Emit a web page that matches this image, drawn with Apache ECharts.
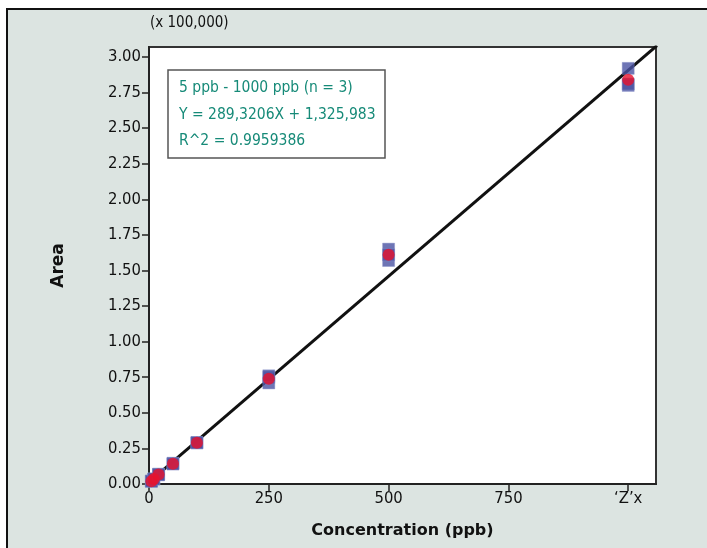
<!DOCTYPE html>
<html><head><meta charset="utf-8">
<script src="https://cdn.jsdelivr.net/npm/echarts@6/dist/echarts.min.js"></script>
<style>html,body{margin:0;padding:0;background:#fff}#c{width:707px;height:548px}</style>
</head><body><div id="c"></div>
<script>
const concentrations = [5, 10, 20, 50, 100, 250, 500, 1000];
const replicate1 = [0.02, 0.035, 0.07, 0.145, 0.29, 0.75, 1.65, 2.92];
const replicate2 = [0.02, 0.035, 0.065, 0.145, 0.29, 0.71, 1.57, 2.80];
const replicate3 = [0.02, 0.035, 0.065, 0.14, 0.29, 0.76, 1.61, 2.81];
const means = [0.02, 0.035, 0.067, 0.143, 0.29, 0.74, 1.61, 2.84];
const fitX = [0, 1060];
const fitY = [0.013, 3.08];
const xTickLabels = {0: '0', 250: '250', 500: '500', 750: '750', 1000: '\u2018Z\u2019x'};
const legendLines = ['5 ppb - 1000 ppb (n = 3)', 'Y = 289,3206X + 1,325,983', 'R^2 = 0.9959386'];

const FONT = 'DejaVu Sans Condensed';
const chart = echarts.init(document.getElementById('c'), null, {renderer: 'canvas'});
const reps = [];
[replicate1, replicate2, replicate3].forEach(r => concentrations.forEach((c, i) => reps.push([c, r[i]])));

chart.setOption({
  animation: false,
  backgroundColor: '#fff',
  graphic: [
    {type: 'rect', z: -10, shape: {x: 7, y: 9, width: 1000, height: 800},
     style: {fill: '#dce4e1', stroke: '#111', lineWidth: 2}},
    {type: 'text', left: 150, top: 16, style: {text: '(x 100,000)', font: '15px "' + FONT + '"', fill: '#111'}}
  ],
  title: {
    text: legendLines.join('\n'),
    left: 168, top: 70,
    padding: [5, 10, 4, 11],
    borderColor: '#555', borderWidth: 1.5,
    backgroundColor: '#fff',
    textStyle: {color: '#168a78', fontFamily: FONT, fontSize: 15.5, fontWeight: 'normal', lineHeight: 26.5}
  },
  grid: {left: 149, top: 47, right: 51, bottom: 64, show: true, borderColor: '#333', borderWidth: 2, backgroundColor: '#fff'},
  xAxis: {
    type: 'value', min: 0, max: 1058, interval: 250,
    name: 'Concentration (ppb)', nameLocation: 'middle', nameGap: 39,
    nameTextStyle: {fontFamily: 'DejaVu Sans', fontSize: 16, fontWeight: 'bold', color: '#111'},
    axisLine: {show: true, onZero: false, lineStyle: {color: '#222', width: 2}},
    axisTick: {show: true, length: 7, lineStyle: {color: '#222', width: 1.5}},
    axisLabel: {fontFamily: FONT, fontSize: 16.5, color: '#111', margin: 6, showMaxLabel: false,
      formatter: v => (xTickLabels[v] !== undefined ? xTickLabels[v] : '')},
    splitLine: {show: false}
  },
  yAxis: {
    type: 'value', min: 0, max: 3.07, interval: 0.25,
    name: 'Area', nameLocation: 'middle', nameGap: 82, nameRotate: 90,
    nameTextStyle: {fontFamily: 'DejaVu Sans', fontSize: 17, fontWeight: 'bold', color: '#111'},
    axisLine: {show: true, onZero: false, lineStyle: {color: '#222', width: 2}},
    axisTick: {show: true, length: 7, lineStyle: {color: '#222', width: 1.5}},
    axisLabel: {fontFamily: FONT, fontSize: 16.5, color: '#111', margin: 8, showMaxLabel: false,
      formatter: v => v.toFixed(2)},
    splitLine: {show: false}
  },
  series: [
    {type: 'line', data: fitX.map((x, i) => [x, fitY[i]]), symbol: 'none', clip: true,
     lineStyle: {color: '#111', width: 3}, z: 2},
    {type: 'scatter', data: reps, symbol: 'rect', symbolSize: 12,
     itemStyle: {color: '#4a53a3', borderColor: '#8a90c8', borderWidth: 0.5}, z: 3},
    {type: 'scatter', data: concentrations.map((c, i) => [c, means[i]]), symbol: 'circle', symbolSize: 12,
     itemStyle: {color: '#e8112d'}, z: 4}
  ]
});
</script></body></html>
